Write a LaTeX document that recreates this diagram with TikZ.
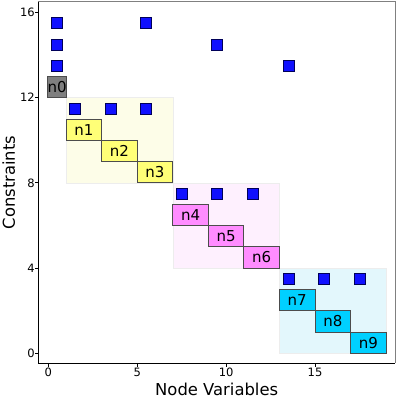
\documentclass[tikz,border=0pt]{standalone}
\usepackage{fontspec}
\setmainfont{DejaVu Sans}
\definecolor{bgY}{HTML}{FDFDE8}
\definecolor{bgM}{HTML}{FEF0FE}
\definecolor{bgC}{HTML}{E3F7FC}
\definecolor{fY}{HTML}{FFFF77}
\definecolor{fM}{HTML}{FF8CFF}
\definecolor{fC}{HTML}{00D0FF}
\definecolor{fG}{HTML}{7F7F7F}
\definecolor{mk}{HTML}{1010FF}
\tikzset{
  nbox/.style={rectangle, draw=black!70, line width=0.9pt, inner sep=0pt, outer sep=0pt,
    minimum width=35.56pt, minimum height=21.3pt, font=\fontsize{15}{17}\selectfont},
  sq/.style={rectangle, draw=black!65!blue, line width=0.6pt, fill=mk, inner sep=0pt,
    minimum size=11pt},
  bgbox/.style={draw=black!7, line width=0.4pt},
  ticklab/.style={font=\fontsize{11.5}{13}\selectfont, inner sep=0pt},
  axlab/.style={font=\fontsize{16.4}{18}\selectfont, inner sep=0pt},
}
\begin{document}
\begin{tikzpicture}[x=17.78pt,y=21.3pt]
\useasboundingbox (-48.3pt,-44.7pt) rectangle (349.7pt,353.3pt);
% block backgrounds
\filldraw[bgbox, fill=bgY] (1,8) rectangle (7,12);
\filldraw[bgbox, fill=bgM] (7,4) rectangle (13,8);
\filldraw[bgbox, fill=bgC] (13,0) rectangle (19,4);
% node boxes
\node[nbox, fill=fG, minimum width=17.78pt] (n0) at (0.5,12.5) {n0};
\node[nbox, fill=fY] (n1) at (2,10.5) {n1};
\node[nbox, fill=fY] (n2) at (4,9.5) {n2};
\node[nbox, fill=fY] (n3) at (6,8.5) {n3};
\node[nbox, fill=fM] (n4) at (8,6.5) {n4};
\node[nbox, fill=fM] (n5) at (10,5.5) {n5};
\node[nbox, fill=fM] (n6) at (12,4.5) {n6};
\node[nbox, fill=fC] (n7) at (14,2.5) {n7};
\node[nbox, fill=fC] (n8) at (16,1.5) {n8};
\node[nbox, fill=fC] (n9) at (18,0.5) {n9};
% markers
\foreach \x/\y [count=\i] in {0.5/15.5,0.5/14.5,0.5/13.5,5.5/15.5,9.5/14.5,13.5/13.5,
  1.5/11.5,3.5/11.5,5.5/11.5,7.5/7.5,9.5/7.5,11.5/7.5,13.5/3.5,15.5/3.5,17.5/3.5}
  \node[sq] (m\i) at (\x,\y) {};
% spines
\draw[black!50, line width=0.8pt] (-0.56,16.5) -- (19.5,16.5) -- (19.5,-0.47);
\draw[black, line width=0.8pt] (-0.56,16.5) -- (-0.56,-0.47) -- (19.5,-0.47);
% x ticks
\foreach \t in {0,5,10,15}{
  \draw[black, line width=0.8pt] (\t,-0.47) -- ++(0,-3.5pt);
  \node[ticklab, anchor=base] (xt\t) at (\t,-1.066) {\t};
}
% y ticks
\foreach \t in {0,4,8,12,16}{
  \draw[black, line width=0.8pt] (-0.56,\t) -- ++(-3.5pt,0);
  \node[ticklab, anchor=base east, yshift=-4.2pt] (yt\t) at (-0.75,\t) {\t};
}
% axis labels
\node[axlab, anchor=base] (xl) at (9.47,-1.958) {Node Variables};
\node[axlab, anchor=base, rotate=90] (yl) at (-1.873,8.02) {Constraints};
\end{tikzpicture}
\end{document}
